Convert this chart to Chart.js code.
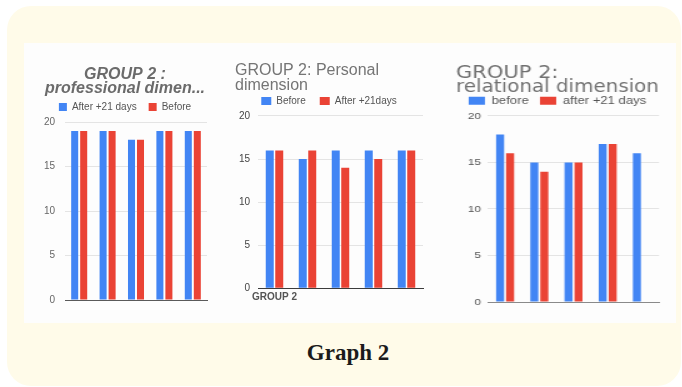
<!DOCTYPE html>
<html>
<head>
<meta charset="utf-8">
<script src="https://cdn.jsdelivr.net/npm/chart.js@4.4.0/dist/chart.umd.min.js"></script>
<style>
  html, body { margin: 0; padding: 0; background: #ffffff; }
  body { width: 682px; height: 387px; position: relative; overflow: hidden; }
  .card { position: absolute; left: 7px; top: 6px; width: 674px; height: 380px; background: #fffbe9; border-radius: 24px; }
  .panel { position: absolute; left: 24px; top: 43px; width: 652px; height: 280px; background: #fdfdfd; }
  canvas { position: absolute; display: block; }
  #c1 { left: 24px; top: 43px; }
  #c2 { left: 226px; top: 43px; }
  #wrap3 { position: absolute; left: 440px; top: 43px; width: 188px; height: 280px; transform: scaleX(1.25); transform-origin: 0 0; }
  #c3 { left: 0; top: 0; }
  .caption { position: absolute; left: 0; top: 340.7px; width: 696px; text-align: center;
             font: bold 23px/23px "Liberation Serif", "Times New Roman", serif; color: #1b1b1b; }
</style>
</head>
<body>
<div class="card"></div>
<div class="panel"></div>
<canvas id="c1" width="200" height="280"></canvas>
<canvas id="c2" width="210" height="280"></canvas>
<div id="wrap3"><canvas id="c3" width="188" height="280"></canvas></div>
<div class="caption">Graph 2</div>

<script>
// Scores per item, five items per dimension
const categories = ['GROUP 2', '', '', '', ''];
const yTicks = [0, 5, 10, 15, 20];

// Professional dimension
const profAfter21 = [19, 19, 18, 19, 19];
const profBefore  = [19, 19, 18, 19, 19];

// Personal dimension
const persBefore  = [16, 15, 16, 16, 16];
const persAfter21 = [16, 16, 14, 15, 16];

// Relational dimension
const relBefore  = [18, 15, 15, 17, 16];
const relAfter21 = [16, 14, 15, 17, null];

const BLUE = '#4285f4';
const RED = '#ea4335';
const SANS = '"Liberation Sans", Arial, sans-serif';

Chart.defaults.font.family = SANS;
Chart.defaults.animation = false;

function yScale(opts) {
  return {
    min: 0, max: 20,
    afterBuildTicks: s => { s.ticks = yTicks.map(v => ({ value: v })); },
    afterFit: s => { s.width = opts.width; },
    ticks: { color: opts.tickColor, padding: opts.pad, font: { size: opts.size } },
    grid: {
      drawTicks: false,
      color: c => (c.tick && c.tick.value === 0) ? 'rgba(0,0,0,0)' : '#e4e4e4',
      lineWidth: 1
    },
    border: { display: false }
  };
}

function xScale(opts) {
  return {
    grid: { display: false, drawTicks: false },
    border: { display: true, color: opts.axisColor, width: 1 },
    ticks: opts.ticks
  };
}

// GROUP 2 : professional dimension
new Chart(document.getElementById('c1'), {
  type: 'bar',
  data: {
    labels: categories,
    datasets: [
      { label: 'After +21 days', data: profAfter21, backgroundColor: BLUE },
      { label: 'Before', data: profBefore, backgroundColor: RED }
    ]
  },
  options: {
    responsive: false,
    events: [],
    categoryPercentage: 0.634,
    barPercentage: 0.78,
    layout: { padding: { top: 24.5, left: 19, right: 17, bottom: 23 } },
    scales: {
      x: xScale({ axisColor: '#5a5a5a', ticks: { display: false } }),
      y: yScale({ width: 22, tickColor: '#666', pad: 10, size: 10 })
    },
    plugins: {
      title: {
        display: true,
        text: ['GROUP 2 :', 'professional dimen...'],
        color: '#6b6b6b',
        align: 'center',
        font: { size: 16, weight: 'bold', style: 'italic', lineHeight: 0.875 },
        padding: { top: 0, bottom: -5.5 }
      },
      legend: {
        position: 'top',
        labels: { boxWidth: 8, boxHeight: 8, padding: 12, color: '#555', font: { size: 10 } }
      },
      tooltip: { enabled: false }
    }
  }
});

// GROUP 2: Personal dimension
new Chart(document.getElementById('c2'), {
  type: 'bar',
  data: {
    labels: categories,
    datasets: [
      { label: 'Before', data: persBefore, backgroundColor: BLUE },
      { label: 'After +21days', data: persAfter21, backgroundColor: RED }
    ]
  },
  options: {
    responsive: false,
    events: [],
    categoryPercentage: 0.576,
    barPercentage: 0.84,
    layout: { padding: { top: 20.75, left: 9, right: 13, bottom: 16.7 } },
    scales: {
      x: xScale({
        axisColor: '#3c3c3c',
        ticks: { display: true, color: '#555', padding: 3, maxRotation: 0, autoSkip: false,
                 font: { size: 10, weight: 'bold' } }
      }),
      y: yScale({ width: 23, tickColor: '#444', pad: 8, size: 10 })
    },
    plugins: {
      title: {
        display: true,
        text: ['GROUP 2: Personal', 'dimension'],
        color: '#757575',
        align: 'start',
        font: { size: 16, weight: 'normal', lineHeight: 0.906 },
        padding: { top: 0, bottom: -10.75 }
      },
      legend: {
        position: 'top',
        labels: { boxWidth: 10, boxHeight: 8, padding: 14, color: '#555', font: { size: 10 } }
      },
      tooltip: { enabled: false }
    }
  }
});

// GROUP 2: relational dimension
new Chart(document.getElementById('c3'), {
  type: 'bar',
  data: {
    labels: categories,
    datasets: [
      { label: 'before', data: relBefore, backgroundColor: BLUE },
      { label: 'after +21 days', data: relAfter21, backgroundColor: RED }
    ]
  },
  options: {
    responsive: false,
    events: [],
    categoryPercentage: 0.585,
    barPercentage: 0.8,
    layout: { padding: { top: 23.25, left: 12.8, right: 12.8, bottom: 21 } },
    scales: {
      x: xScale({ axisColor: '#8a8a8a', ticks: { display: false } }),
      y: yScale({ width: 25.6, tickColor: '#555', pad: 5.6, size: 9.5 })
    },
    plugins: {
      title: {
        display: true,
        text: ['GROUP 2:', 'relational dimension'],
        color: '#707070',
        align: 'start',
        font: { family: '"DejaVu Sans", sans-serif', size: 16.8, weight: 'normal', lineHeight: 0.863 },
        padding: { top: 0, bottom: -8.75 }
      },
      legend: {
        position: 'top',
        labels: { boxWidth: 13, boxHeight: 8, padding: 9, color: '#555', font: { size: 10.5 } }
      },
      tooltip: { enabled: false }
    }
  }
});
</script>
</body>
</html>
